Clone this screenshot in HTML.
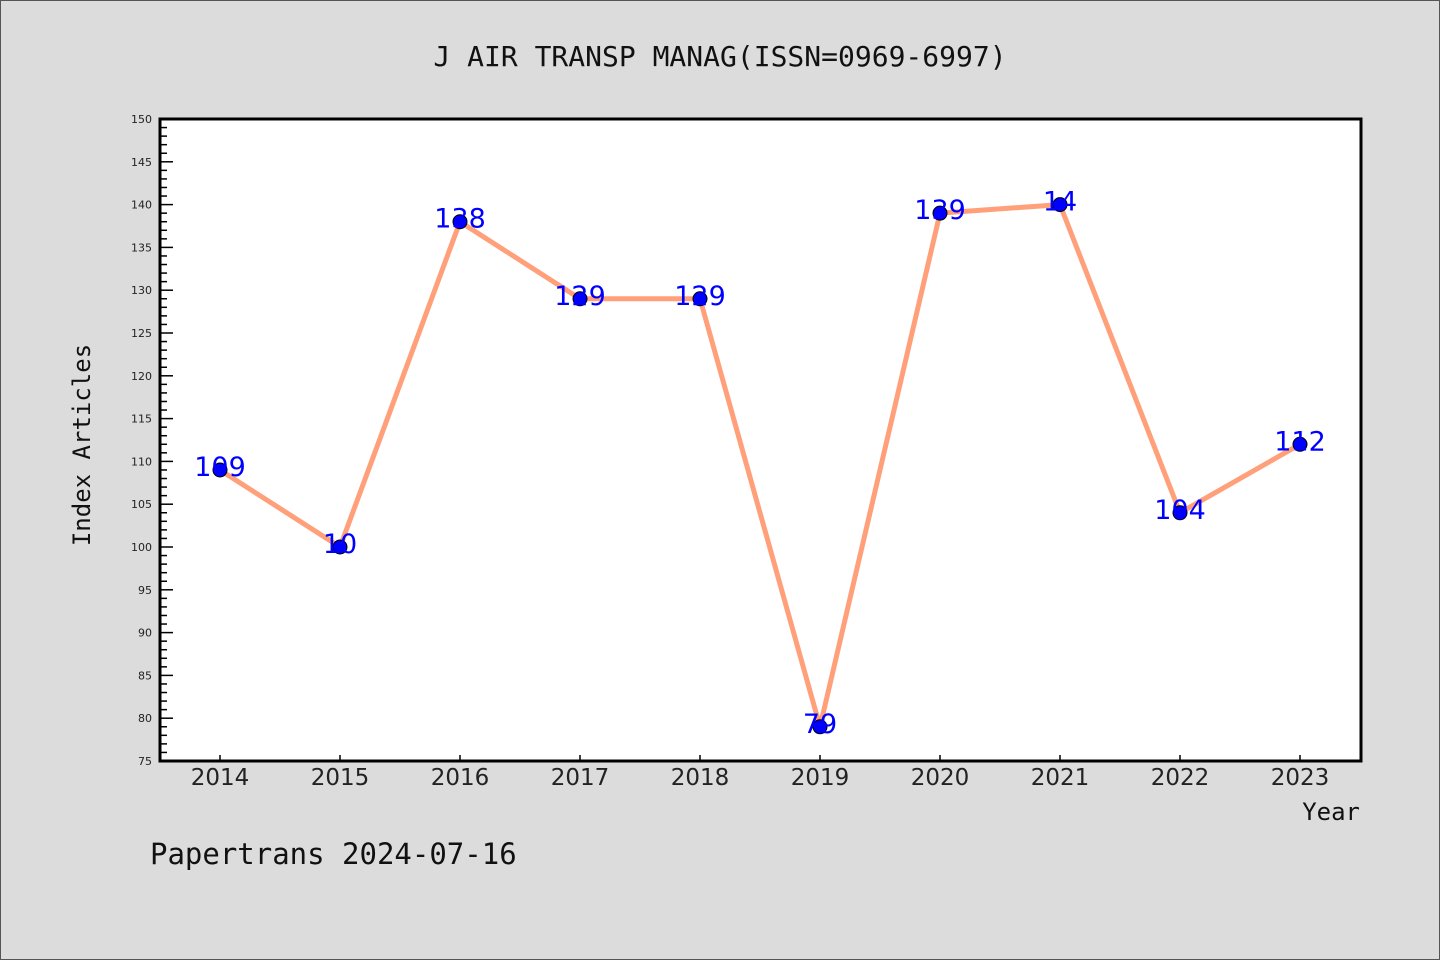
<!DOCTYPE html>
<html><head><meta charset="utf-8"><style>
body{margin:0;background:#dcdcdc;}
svg{display:block;font-family:"DejaVu Sans","Liberation Sans",sans-serif;}
</style></head><body>
<svg id="chart" width="1440" height="960" xmlns="http://www.w3.org/2000/svg">
<rect x="0.5" y="0.5" width="1439" height="959" fill="#dcdcdc" stroke="#555"/>
<text x="720" y="66" text-anchor="middle" font-size="28" fill="#111" font-family="DejaVu Sans Mono, Liberation Mono, monospace">J AIR TRANSP MANAG(ISSN=0969-6997)</text>
<rect x="160" y="119" width="1201" height="642" fill="#fff"/>
<g id="yticks"></g>
<g id="xticks"></g>
<g id="series"></g>
<rect x="160" y="119" width="1201" height="642" fill="none" stroke="#000" stroke-width="3"/>
<text x="90" y="445" text-anchor="middle" font-size="24" fill="#111" font-family="DejaVu Sans Mono, Liberation Mono, monospace" transform="rotate(-90 90 445)">Index Articles</text>
<text x="1360" y="820" text-anchor="end" font-size="24" fill="#111" font-family="DejaVu Sans Mono, Liberation Mono, monospace">Year</text>
<text x="150" y="864" font-size="29" fill="#111" font-family="DejaVu Sans Mono, Liberation Mono, monospace">Papertrans 2024-07-16</text>
</svg>
<script>
const years = ["2014","2015","2016","2017","2018","2019","2020","2021","2022","2023"];
const values = [109,100,138,129,129,79,139,140,104,112];
const pointLabels = ["109","10","138","129","129","79","139","14","104","112"];
const yTickLabels = [75,80,85,90,95,100,105,110,115,120,125,130,135,140,145,150];
const NS="http://www.w3.org/2000/svg";
const X0=160,X1=1360,Y0=761,Y1=119,YMIN=75,YMAX=150;
const xs=i=>X0+(X1-X0)/years.length*(i+0.5);
const ys=v=>Y0-(v-YMIN)/(YMAX-YMIN)*(Y0-Y1);
function mk(tag,attrs,parent){const e=document.createElementNS(NS,tag);for(const k in attrs)e.setAttribute(k,attrs[k]);parent.appendChild(e);return e;}
const yg=document.getElementById('yticks');
for(let v=YMIN;v<=YMAX;v++){
  const major=v%5===0;
  const t=mk('line',{x1:X0,x2:X0+(major?13:7),y1:ys(v),y2:ys(v),stroke:'#000','stroke-width':1.5},yg);
  
  
}
yTickLabels.forEach(v=>{
  const t=mk('text',{x:152,y:ys(v)+4,'text-anchor':'end','font-size':11,fill:'#222'},yg);
  t.textContent=v;
  
  
});
const xg=document.getElementById('xticks');
years.forEach((y,i)=>{
  const l=mk('line',{x1:xs(i),x2:xs(i),y1:Y0,y2:Y0-6,stroke:'#000','stroke-width':1.5},xg);
  
  
  const t=mk('text',{x:xs(i),y:785,'text-anchor':'middle','font-size':23,fill:'#222'},xg);
  t.textContent=y;
  
  
});
const sg=document.getElementById('series');
const line=mk('polyline',{points:values.map((v,i)=>xs(i)+','+ys(v)).join(' '),fill:'none',stroke:'#ffa07a','stroke-width':5,'stroke-linejoin':'round'},sg);


values.forEach((v,i)=>{
  const c=mk('circle',{cx:xs(i),cy:ys(v),r:7,fill:'#0000ff',stroke:'#000','stroke-width':1},sg);
  
  
  const t=mk('text',{x:xs(i),y:ys(v)+6,'text-anchor':'middle','font-size':27,fill:'#0000ff'},sg);
  t.textContent=pointLabels[i];
  
  
});
</script>
</body></html>
